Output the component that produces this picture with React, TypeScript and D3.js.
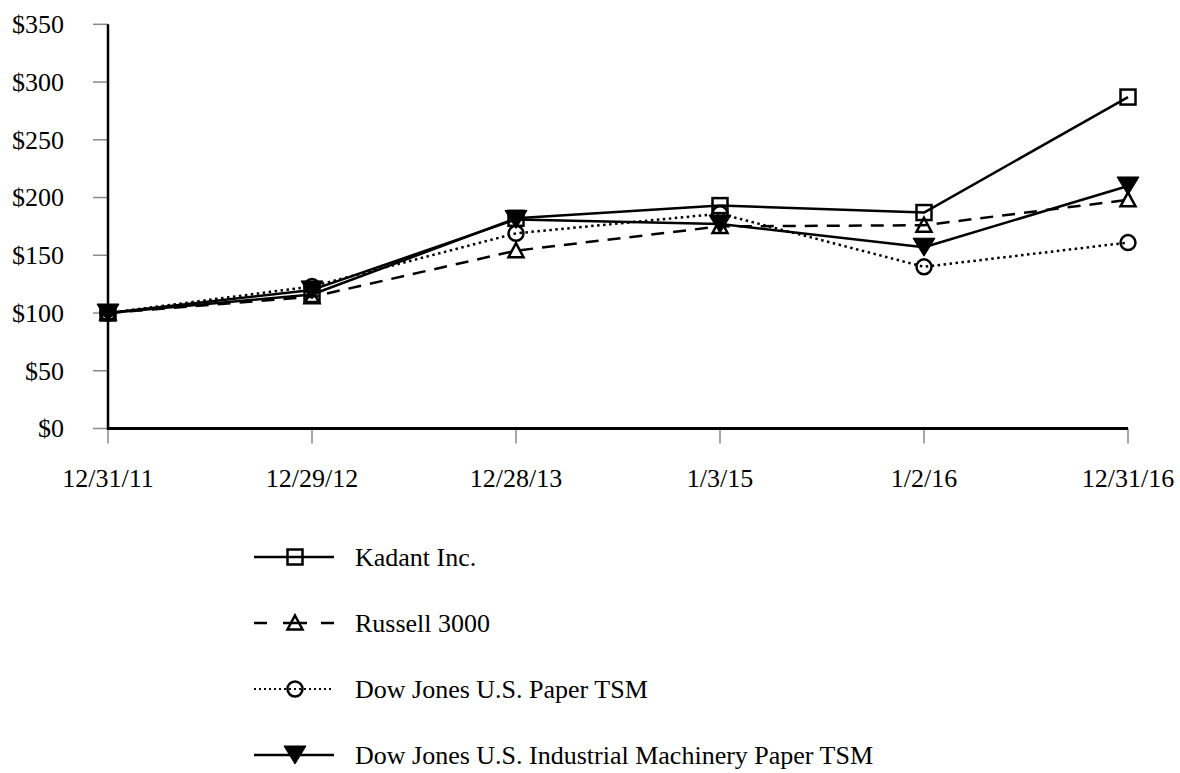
import React, { useEffect, useRef } from 'react';
import * as d3 from 'd3';

// period end dates on the x axis
const dates = ['12/31/11', '12/29/12', '12/28/13', '1/3/15', '1/2/16', '12/31/16'];

// cumulative value of $100 invested
const kadant = [100, 116, 182, 193, 187, 287];
const russell3000 = [100, 114, 154, 175, 176, 198];
const djPaper = [100, 123, 169, 186, 140, 161];
const djMachinery = [100, 120, 181, 177, 157, 210];

const yTicks = [0, 50, 100, 150, 200, 250, 300, 350];

type Marker = 'square' | 'triUp' | 'circle' | 'triDown';
type Series = {
    name: string,
    values: number[],
    marker: Marker,
    dash: string | null,
    legendDash: string | null,
    legendWidth: number,
};

const series: Series[] = [
    { name: 'Kadant Inc.', values: kadant, marker: 'square', dash: null, legendDash: null, legendWidth: 2.5 },
    { name: 'Russell 3000', values: russell3000, marker: 'triUp', dash: '13 9', legendDash: '13 16 24 14 13', legendWidth: 2.5 },
    { name: 'Dow Jones U.S. Paper TSM', values: djPaper, marker: 'circle', dash: '2.5 3.5', legendDash: '2 3', legendWidth: 2 },
    { name: 'Dow Jones U.S. Industrial Machinery Paper TSM', values: djMachinery, marker: 'triDown', dash: null, legendDash: null, legendWidth: 2.5 },
];

const W = 1180;
const H = 773;
const FONT = '"Liberation Serif", "Times New Roman", serif';
const FONT_SIZE = 26;

function drawMarker(g: d3.Selection<SVGGElement, unknown, null, undefined>, kind: Marker, x: number, y: number) {
    if (kind === 'square') {
        g.append('rect')
            .attr('x', x - 7.5).attr('y', y - 7.5)
            .attr('width', 15).attr('height', 15)
            .attr('fill', 'none').attr('stroke', '#000').attr('stroke-width', 2.5);
    } else if (kind === 'circle') {
        g.append('circle')
            .attr('cx', x).attr('cy', y).attr('r', 7.5)
            .attr('fill', 'none').attr('stroke', '#000').attr('stroke-width', 2.5);
    } else if (kind === 'triUp') {
        g.append('path')
            .attr('d', `M${x},${y - 7.5}L${x + 7.5},${y + 6.5}L${x - 7.5},${y + 6.5}Z`)
            .attr('fill', 'none').attr('stroke', '#000').attr('stroke-width', 2.5);
    } else {
        g.append('path')
            .attr('d', `M${x - 11},${y - 9}L${x + 11},${y - 9}L${x},${y + 9}Z`)
            .attr('fill', '#000').attr('stroke', '#000').attr('stroke-width', 1);
    }
}

export default function App() {
    const ref = useRef<SVGSVGElement>(null);

    useEffect(() => {
        if (!ref.current) { return; }
        const svg = d3.select(ref.current);
        svg.selectAll('*').remove();

        const x = d3.scalePoint<string>().domain(dates).range([108, 1128]);
        const y = d3.scaleLinear().domain([0, 350]).range([428.5, 24.3]);

        // y axis: gray ticks, labels, black spine
        const yAxis = svg.append('g');
        yTicks.forEach(t => {
            yAxis.append('line')
                .attr('x1', 93).attr('x2', 108)
                .attr('y1', y(t)).attr('y2', y(t))
                .attr('stroke', '#8a8a8a').attr('stroke-width', 1.5);
            yAxis.append('text')
                .attr('x', 64).attr('y', y(t)).attr('dy', '0.34em')
                .attr('text-anchor', 'end')
                .attr('font-family', FONT).attr('font-size', FONT_SIZE)
                .text(`$${t}`);
        });

        // x axis
        const xAxis = svg.append('g');
        dates.forEach(d => {
            xAxis.append('line')
                .attr('x1', x(d)!).attr('x2', x(d)!)
                .attr('y1', y(0)).attr('y2', y(0) + 15)
                .attr('stroke', '#8a8a8a').attr('stroke-width', 1.5);
            xAxis.append('text')
                .attr('x', x(d)!).attr('y', 487)
                .attr('text-anchor', 'middle')
                .attr('font-family', FONT).attr('font-size', FONT_SIZE)
                .text(d);
        });
        svg.append('line')
            .attr('x1', 108).attr('x2', 108)
            .attr('y1', y(350)).attr('y2', y(0) + 1.5)
            .attr('stroke', '#000').attr('stroke-width', 2.5);
        svg.append('line')
            .attr('x1', 107).attr('x2', 1128)
            .attr('y1', y(0)).attr('y2', y(0))
            .attr('stroke', '#000').attr('stroke-width', 3);

        // lines
        const line = d3.line<number>()
            .x((_, i) => x(dates[i])!)
            .y(v => y(v));
        const plot = svg.append('g');
        series.forEach(s => {
            plot.append('path')
                .attr('d', line(s.values))
                .attr('fill', 'none')
                .attr('stroke', '#000')
                .attr('stroke-width', 2.5)
                .attr('stroke-dasharray', s.dash)
                .attr('stroke-linejoin', 'round');
        });
        // markers on top
        const markers = svg.append('g');
        series.forEach(s => {
            s.values.forEach((v, i) => drawMarker(markers, s.marker, x(dates[i])!, y(v)));
        });

        // legend
        const legend = svg.append('g');
        series.forEach((s, i) => {
            const ly = 557 + i * 66;
            legend.append('line')
                .attr('x1', 254).attr('x2', 334)
                .attr('y1', ly).attr('y2', ly)
                .attr('stroke', '#000')
                .attr('stroke-width', s.legendWidth)
                .attr('stroke-dasharray', s.legendDash);
            drawMarker(legend, s.marker, 295, ly);
            legend.append('text')
                .attr('x', 355).attr('y', ly + 9)
                .attr('font-family', FONT).attr('font-size', FONT_SIZE)
                .text(s.name);
        });
    }, []);

    return (
        <svg
            ref={ref}
            width={W}
            height={H}
            style={{ position: 'absolute', left: 0, top: 0, background: '#fff' }}
        />
    );
}
